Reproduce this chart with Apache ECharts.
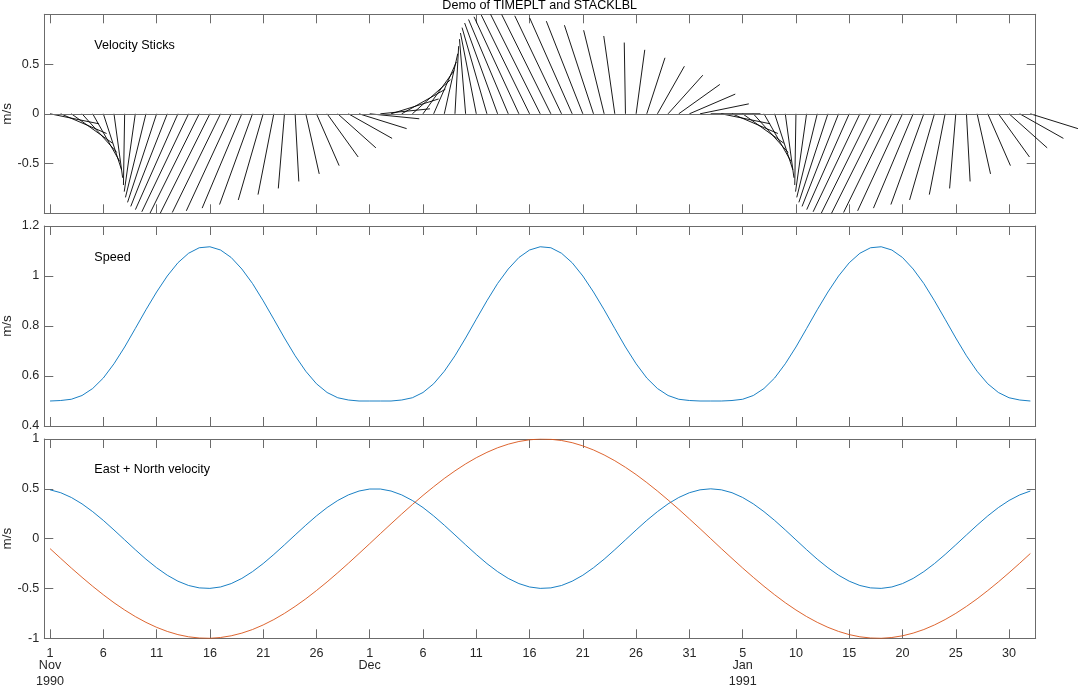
<!DOCTYPE html>
<html>
<head>
<meta charset="utf-8">
<script src="https://cdn.jsdelivr.net/npm/echarts@6/dist/echarts.min.js"></script>
<style>
html,body{margin:0;padding:0;background:#fff;}
#chart{width:1080px;height:687px;}
</style>
</head>
<body>
<div id="chart"></div>
<script>
// ---- data (days since 1 Nov 1990, daily samples) ----
const days = [0,1,2,3,4,5,6,7,8,9,10,11,12,13,14,15,16,17,18,19,20,21,22,23,24,25,26,27,28,29,30,
  31,32,33,34,35,36,37,38,39,40,41,42,43,44,45,46,47,48,49,50,51,52,53,54,55,56,57,58,59,60,61,
  62,63,64,65,66,67,68,69,70,71,72,73,74,75,76,77,78,79,80,81,82,83,84,85,86,87,88,89,90,91,92];

const eastVel = [0.490,0.461,0.413,0.349,0.271,0.183,0.087,-0.012,-0.111,-0.206,-0.292,-0.367,-0.427,-0.470,-0.494,-0.499,-0.485,-0.451,-0.399,-0.331,-0.250,-0.159,-0.062,0.037,0.135,0.228,0.312,0.383,0.439,0.478,0.498,
  0.498,0.478,0.439,0.383,0.312,0.228,0.135,0.037,-0.062,-0.159,-0.250,-0.331,-0.399,-0.451,-0.485,-0.499,-0.494,-0.470,-0.427,-0.367,-0.292,-0.206,-0.111,-0.012,0.087,0.183,0.271,0.349,0.413,0.461,0.490,
  0.500,
  0.490,0.461,0.413,0.349,0.271,0.183,0.087,-0.012,-0.111,-0.206,-0.292,-0.367,-0.427,-0.470,-0.494,-0.499,-0.485,-0.451,-0.399,-0.331,-0.250,-0.159,-0.062,0.037,0.135,0.228,0.312,0.383,0.439,0.478];

const northVel = [-0.100,-0.198,-0.295,-0.388,-0.478,-0.563,-0.643,-0.716,-0.782,-0.840,-0.890,-0.931,-0.963,-0.985,-0.997,-1.000,-0.992,-0.975,-0.948,-0.912,-0.866,-0.812,-0.750,-0.680,-0.604,-0.521,-0.434,-0.342,-0.247,-0.149,-0.050,
  0.050,0.149,0.247,0.342,0.434,0.521,0.604,0.680,0.750,0.812,0.866,0.912,0.948,0.975,0.992,1.000,0.997,0.985,0.963,0.931,0.890,0.840,0.782,0.716,0.643,0.563,0.478,0.388,0.295,0.198,0.100,
  0.000,
  -0.100,-0.198,-0.295,-0.388,-0.478,-0.563,-0.643,-0.716,-0.782,-0.840,-0.890,-0.931,-0.963,-0.985,-0.997,-1.000,-0.992,-0.975,-0.948,-0.912,-0.866,-0.812,-0.750,-0.680,-0.604,-0.521,-0.434,-0.342,-0.247,-0.149];

const speedVals = [0.500,0.502,0.507,0.522,0.550,0.592,0.649,0.716,0.790,0.865,0.936,1.000,1.053,1.091,1.113,1.117,1.104,1.074,1.028,0.970,0.901,0.827,0.752,0.681,0.619,0.569,0.534,0.513,0.504,0.500,0.500,
  0.500,0.500,0.504,0.513,0.534,0.569,0.619,0.681,0.752,0.827,0.901,0.970,1.028,1.074,1.104,1.117,1.113,1.091,1.053,1.000,0.936,0.865,0.790,0.716,0.649,0.592,0.550,0.522,0.507,0.502,0.500,
  0.500,
  0.500,0.502,0.507,0.522,0.550,0.592,0.649,0.716,0.790,0.865,0.936,1.000,1.053,1.091,1.113,1.117,1.104,1.074,1.028,0.970,0.901,0.827,0.752,0.681,0.619,0.569,0.534,0.513,0.504,0.500];

// ---- axis ticks / labels ----
const tickDays = [0,5,10,15,20,25,30,35,40,45,50,55,60,65,70,75,80,85,90];
const tickDayLabels = ['1','6','11','16','21','26','1','6','11','16','21','26','31','5','10','15','20','25','30'];
const monthTickDays = [0,30,65];
const monthLabels = ['Nov','Dec','Jan'];
const yearTickDays = [0,65];
const yearLabels = ['1990','1991'];

const panelTitles = ['Velocity Sticks','Speed','East + North velocity'];
const chartTitle = 'Demo of TIMEPLT and STACKLBL';
const yUnit = 'm/s';

// ---- style ----
const FONT = '"Liberation Sans", Arial, Helvetica, sans-serif';
const AXC = '#6b6b6b';
const TXT = '#262626';
const FS = 12.6;
const X_MIN = -0.54, X_MAX = 92.5;
const BLUE = '#0072BD', ORANGE = '#D95319';

const gridBoxes = [
  {left: 44.3, width: 991.4, top: 14.3, height: 199, containLabel: false, outerBoundsMode: 'none'},
  {left: 44.3, width: 991.4, top: 226, height: 200, containLabel: false, outerBoundsMode: 'none'},
  {left: 44.3, width: 991.4, top: 439, height: 199.3, containLabel: false, outerBoundsMode: 'none'}
];
const yRanges = [
  {min: -1, max: 1, interval: 0.5},
  {min: 0.4, max: 1.2, interval: 0.2},
  {min: -1, max: 1, interval: 0.5}
];

function xLabelFmt(val) {
  const r = Math.round(val);
  const i = tickDays.indexOf(r);
  if (i < 0) return '';
  let s = '{d|' + tickDayLabels[i] + '}';
  const m = monthTickDays.indexOf(r);
  if (m >= 0) s += '\n{m|' + monthLabels[m] + '}';
  const y = yearTickDays.indexOf(r);
  if (y >= 0) s += '\n{y|' + yearLabels[y] + '}';
  return s;
}

const xAxes = [], yAxes = [];
gridBoxes.forEach((g, gi) => {
  ['bottom', 'top'].forEach(pos => {
    const showLab = (gi === 2 && pos === 'bottom');
    xAxes.push({
      type: 'value', gridIndex: gi, position: pos, min: X_MIN, max: X_MAX,
      axisLine: {show: true, onZero: false, lineStyle: {color: AXC, width: 1}},
      axisTick: {show: true, inside: true, length: 9, customValues: tickDays, lineStyle: {color: AXC, width: 1}},
      axisLabel: {
        show: showLab, customValues: tickDays, margin: 8.5, formatter: xLabelFmt,
        color: TXT, fontFamily: FONT, fontSize: FS,
        rich: {
          d: {color: TXT, fontFamily: FONT, fontSize: FS, lineHeight: 13},
          m: {color: TXT, fontFamily: FONT, fontSize: FS, lineHeight: 11},
          y: {color: TXT, fontFamily: FONT, fontSize: FS, lineHeight: 22}
        }
      },
      splitLine: {show: false}
    });
  });
  ['left', 'right'].forEach(pos => {
    const r = yRanges[gi];
    const isLeft = pos === 'left';
    yAxes.push({
      type: 'value', gridIndex: gi, position: pos, min: r.min, max: r.max, interval: r.interval,
      name: isLeft ? yUnit : '', nameLocation: 'middle', nameGap: 30, nameMoveOverlap: false,
      nameTextStyle: {color: TXT, fontFamily: FONT, fontSize: 13.5},
      axisLine: {show: true, onZero: false, lineStyle: {color: AXC, width: 1}},
      axisTick: {show: true, inside: true, length: 9, lineStyle: {color: AXC, width: 1}},
      axisLabel: {
        show: isLeft, margin: 5, color: TXT, fontFamily: FONT, fontSize: FS,
        formatter: (v) => (gi === 0 && Math.abs(v) === 1) ? '' : String(Math.round(v * 10) / 10)
      },
      splitLine: {show: false}
    });
  });
});

const stickData = days.map((d, i) => [d, eastVel[i], northVel[i]]);

const series = [
  {
    type: 'line', xAxisIndex: 0, yAxisIndex: 0, data: [], silent: true,
    markLine: {
      silent: true, symbol: 'none', animation: false,
      label: {show: false},
      lineStyle: {color: AXC, type: 'solid', width: 1},
      data: [{yAxis: 0}]
    }
  },
  {
    type: 'custom', xAxisIndex: 0, yAxisIndex: 0, clip: false, silent: true,
    data: stickData,
    encode: {x: 0, y: 2},
    renderItem: function (params, api) {
      const t = api.value(0), u = api.value(1), v = api.value(2);
      const base = api.coord([t, 0]);
      const tipY = api.coord([t, v])[1];
      const pxPerUnit = api.size([0, 1])[1];
      return {
        type: 'line',
        shape: {x1: base[0], y1: base[1], x2: base[0] + u * pxPerUnit, y2: tipY},
        style: {stroke: '#000', lineWidth: 0.9}
      };
    }
  },
  {
    type: 'line', xAxisIndex: 2, yAxisIndex: 2, showSymbol: false, silent: true,
    data: days.map((d, i) => [d, speedVals[i]]),
    lineStyle: {color: BLUE, width: 0.9}, itemStyle: {color: BLUE}
  },
  {
    type: 'line', xAxisIndex: 4, yAxisIndex: 4, showSymbol: false, silent: true,
    data: days.map((d, i) => [d, eastVel[i]]),
    lineStyle: {color: BLUE, width: 0.9}, itemStyle: {color: BLUE}
  },
  {
    type: 'line', xAxisIndex: 4, yAxisIndex: 4, showSymbol: false, silent: true,
    data: days.map((d, i) => [d, northVel[i]]),
    lineStyle: {color: ORANGE, width: 0.9}, itemStyle: {color: ORANGE}
  }
];

const panelLabelY = [45.5, 257.5, 469.5];
const graphic = [
  {type: 'text', x: 539.7, y: 5.5, style: {text: chartTitle, fill: '#000', font: FS + 'px ' + FONT, textAlign: 'center', textVerticalAlign: 'middle'}}
].concat(panelTitles.map((t, i) => ({
  type: 'text', x: 94.3, y: panelLabelY[i],
  style: {text: t, fill: '#000', font: FS + 'px ' + FONT, textAlign: 'left', textVerticalAlign: 'middle'}
})));

const chart = echarts.init(document.getElementById('chart'), null, {renderer: 'canvas'});
chart.setOption({
  animation: false,
  backgroundColor: '#fff',
  grid: gridBoxes,
  xAxis: xAxes,
  yAxis: yAxes,
  series: series,
  graphic: graphic
});
</script>
</body>
</html>
